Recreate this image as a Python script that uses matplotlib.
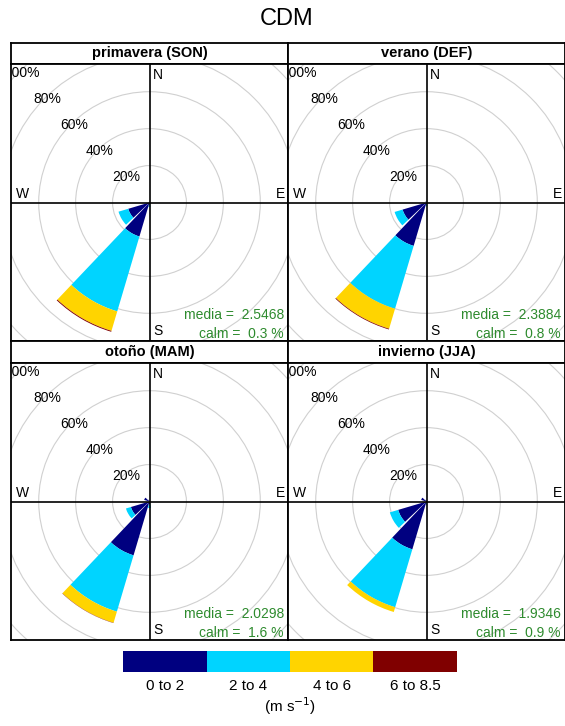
import matplotlib
matplotlib.use("Agg")
import matplotlib.pyplot as plt
import matplotlib as mpl
from matplotlib.patches import Wedge, Circle
from matplotlib.colors import ListedColormap, BoundaryNorm
import numpy as np

plt.rcParams['font.family'] = ['Liberation Sans', 'DejaVu Sans']

# direction bins (degrees from north) and speed classes
directions = [0, 30, 60, 90, 120, 150, 180, 210, 240, 270, 300, 330]
speed_labels = ["0 to 2", "2 to 4", "4 to 6", "6 to 8.5"]
speed_colors = ["#000080", "#00d4ff", "#ffd400", "#800000"]

seasons = ["primavera (SON)", "verano (DEF)", "otoño (MAM)", "invierno (JJA)"]
media = [2.5468, 2.3884, 2.0298, 1.9346]
calm = [0.3, 0.8, 1.6, 0.9]

# frequency (%) per direction, one row per speed class
son = [[0, 0, 0, 0, 0, 0, 1.0, 19.2, 12.0, 0, 0, 0],
       [0, 0, 0, 0, 0, 0, 1.5, 42.3, 5.5, 0, 0, 0],
       [0, 0, 0, 0, 0, 0, 0, 11.0, 0, 0, 0, 0],
       [0, 0, 0, 0, 0, 0, 0, 0.5, 0, 0, 0, 0]]
def_ = [[0, 0, 0, 0, 0, 0, 0.8, 24.5, 13.5, 0, 0, 0.8],
        [0, 0, 0, 0, 0, 0, 1.2, 35.5, 4.5, 0, 0, 0],
        [0, 0, 0, 0, 0, 0, 0, 11.3, 0, 0, 0, 0],
        [0, 0, 0, 0, 0, 0, 0, 0.4, 0, 0, 0, 0]]
mam = [[0, 0, 0, 0, 0, 0, 1.5, 30.4, 10.5, 0, 3.0, 1.0],
       [0, 0, 0, 0, 0, 0, 2.0, 31.8, 2.8, 0, 0, 0],
       [0, 0, 0, 0, 0, 0, 0, 6.3, 0, 0, 0, 0],
       [0, 0, 0, 0, 0, 0, 0, 0.15, 0, 0, 0, 0]]
jja = [[0, 0, 0, 0, 0, 0, 1.0, 27.0, 16.0, 0, 3.0, 1.0],
       [0, 0, 0, 0, 0, 0, 0.8, 32.7, 4.7, 0, 0, 0],
       [0, 0, 0, 0, 0, 0, 0, 2.7, 0, 0, 0, 0],
       [0, 0, 0, 0, 0, 0, 0, 0, 0, 0, 0, 0]]
freqs = [son, def_, mam, jja]

rings = [20, 40, 60, 80, 100]
lim = 75
seg = 27  # wedge width in degrees

W, H = 565, 726
fig = plt.figure(figsize=(W / 100, H / 100), dpi=100)


def px_axes(x0, y0, x1, y1):
    # axes from pixel box (top-left origin)
    return fig.add_axes([x0 / W, 1 - y1 / H, (x1 - x0) / W, (y1 - y0) / H])


cols = [(11, 288), (288, 565)]
rows = [(43, 64, 341), (341, 363, 640)]

for i, name in enumerate(seasons):
    cx0, cx1 = cols[i % 2]
    sy0, sy1, by1 = rows[i // 2]

    strip = px_axes(cx0, sy0, cx1, sy1)
    strip.set_xticks([])
    strip.set_yticks([])
    strip.text(0.5, 0.5, name, ha='center', va='center', fontsize=10.5,
               fontweight='bold', transform=strip.transAxes)
    for s in strip.spines.values():
        s.set_linewidth(1.3)

    ax = px_axes(cx0, sy1, cx1, by1)
    ax.set_xlim(-lim, lim)
    ax.set_ylim(-lim, lim)
    ax.set_xticks([])
    ax.set_yticks([])
    for s in ax.spines.values():
        s.set_linewidth(1.3)

    for r in rings:
        ax.add_patch(Circle((0, 0), r, fill=False, ec='#d0d0d0', lw=0.8, zorder=1))
        a = np.deg2rad(135)
        ax.text(r * np.cos(a) + 1.5, r * np.sin(a) - 0.5, f"{r}%", ha='center',
                va='center', fontsize=10, clip_on=True, zorder=4)

    data = np.array(freqs[i])
    cum = np.vstack([np.zeros(len(directions)), np.cumsum(data, axis=0)])
    for k, d in enumerate(directions):
        theta = 90 - d
        for j in range(len(speed_labels)):
            r0, r1 = cum[j, k], cum[j + 1, k]
            if r1 - r0 <= 0:
                continue
            ax.add_patch(Wedge((0, 0), r1, theta - seg / 2, theta + seg / 2,
                               width=(r1 - r0) if r0 > 0 else None,
                               fc=speed_colors[j], ec='none', zorder=2))

    ax.axhline(0, color='black', lw=1.2, zorder=3)
    ax.axvline(0, color='black', lw=1.2, zorder=3)

    ax.text(2, lim - 2, "N", ha='left', va='top', fontsize=10, zorder=4)
    ax.text(2, -lim + 1.5, "S", ha='left', va='bottom', fontsize=10, zorder=4)
    ax.text(-lim + 2.5, 1, "W", ha='left', va='bottom', fontsize=10, zorder=4)
    ax.text(lim - 1.5, 1, "E", ha='right', va='bottom', fontsize=10, zorder=4)

    ax.text(0.985, 0.094, f"media =  {media[i]:.4f}", ha='right', va='center',
            fontsize=10, color='#2e8b2e', transform=ax.transAxes, zorder=4)
    ax.text(0.985, 0.024, f"calm =  {calm[i]:.1f} %", ha='right', va='center',
            fontsize=10, color='#2e8b2e', transform=ax.transAxes, zorder=4)

fig.text(287 / W, 1 - 19 / H, "CDM", ha='center', va='center', fontsize=17)

# colour key for speed classes
cax = px_axes(123, 651, 457, 672)
cb = mpl.colorbar.ColorbarBase(cax, cmap=ListedColormap(speed_colors),
                               norm=BoundaryNorm(np.arange(5), 4),
                               orientation='horizontal',
                               ticks=np.arange(4) + 0.5)
cb.set_ticklabels(speed_labels)
cb.outline.set_visible(False)
cax.minorticks_off()
cax.tick_params(which='both', length=0, labelsize=11, pad=5)
fig.text(290 / W, 1 - 706 / H, r"(m s$^{-1}$)", ha='center', va='center', fontsize=11)

fig.savefig("out.png", dpi=100)
